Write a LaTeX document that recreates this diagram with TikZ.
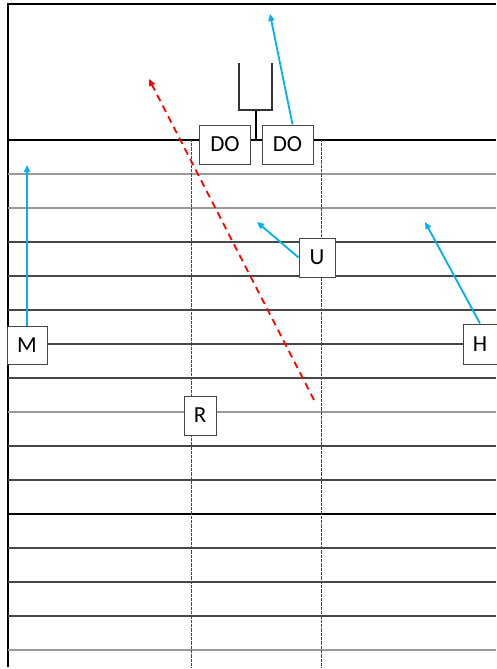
\documentclass[tikz,border=0pt]{standalone}
\usepackage{fontspec}
\setmainfont{Carlito}
\usetikzlibrary{arrows.meta}
\definecolor{cblue}{HTML}{00B0F0}
\definecolor{lgray}{HTML}{9A9A9A}
\definecolor{dgray}{HTML}{474747}
\tikzset{
  x=1pt,y=-1pt,
  pbox/.style={draw=dgray,fill=white,line width=1pt,inner sep=0pt,font=\fontsize{23}{25}\selectfont},
  barrow/.style={draw=cblue,line width=1.8pt,-{Triangle[length=7pt,width=6pt]}},
  rarrow/.style={draw=red,line width=1.8pt,dash pattern=on 7pt off 5pt,-{Triangle[length=7pt,width=6pt]}},
  vdot/.style={draw=dgray,line width=1pt,dash pattern=on 0.8pt off 0.5pt},
  gl/.style={draw=lgray,line width=1.2pt},
  dl/.style={draw=dgray,line width=1.3pt}
}
\begin{document}
\begin{tikzpicture}
\useasboundingbox (0,0) rectangle (496,669);
% frame
\draw[line width=2.2pt] (8,667) -- (8,4) -- (496,4);
\draw[line width=2.5pt] (8,140) -- (496,140);
% yard lines
\draw[gl] (8,174) -- (496,174);
\draw[gl] (8,208) -- (496,208);
\draw[dl] (8,242) -- (496,242);
\draw[dl] (8,276) -- (496,276);
\draw[dl] (8,310) -- (496,310);
\draw[dl] (8,344) -- (496,344);
\draw[dl] (8,378) -- (496,378);
\draw[gl] (8,412) -- (496,412);
\draw[dl] (8,446) -- (496,446);
\draw[dl] (8,480) -- (496,480);
\draw[line width=1.8pt] (8,514) -- (496,514);
\draw[dl] (8,548) -- (496,548);
\draw[dl] (8,582) -- (496,582);
\draw[dl] (8,616) -- (496,616);
\draw[gl] (8,650) -- (496,650);
% dotted verticals
\draw[vdot] (191,140) -- (191,667);
\draw[vdot] (321,140) -- (321,667);
% goal post
\draw[line width=1.8pt] (256,140) -- (256,110);
\draw[draw=black!80,line width=1.6pt] (239,63) -- (239,110) -- (272,110) -- (272,63);
% players
\node[pbox,minimum width=51pt,minimum height=39pt] (do1) at (225,144.5) {DO};
\node[pbox,minimum width=51pt,minimum height=39pt] (do2) at (287.5,144.5) {DO};
\node[pbox,minimum width=40pt,minimum height=38pt] (m) at (27,345) {M};
\node[pbox,minimum width=36pt,minimum height=39pt] (u) at (317,257.5) {U};
\node[pbox,minimum width=34pt,minimum height=40pt] (h) at (480,344) {H};
\node[pbox,minimum width=32pt,minimum height=39pt] (r) at (200,415.5) {R};
% routes
\coordinate (t1) at (270,14);
\coordinate (t2) at (27,165);
\coordinate (t3) at (257,222);
\coordinate (t4) at (425,222);
\coordinate (rs) at (314,400);
\coordinate (re) at (149,79);
\draw[barrow] (do2.north) ++(5,0) -- (t1);
\draw[barrow] (m.north) -- (t2);
\draw[barrow] (u.west) -- (t3);
\draw[barrow] (h.north) -- (t4);
\draw[rarrow] (rs) -- (re);
\end{tikzpicture}
\end{document}
